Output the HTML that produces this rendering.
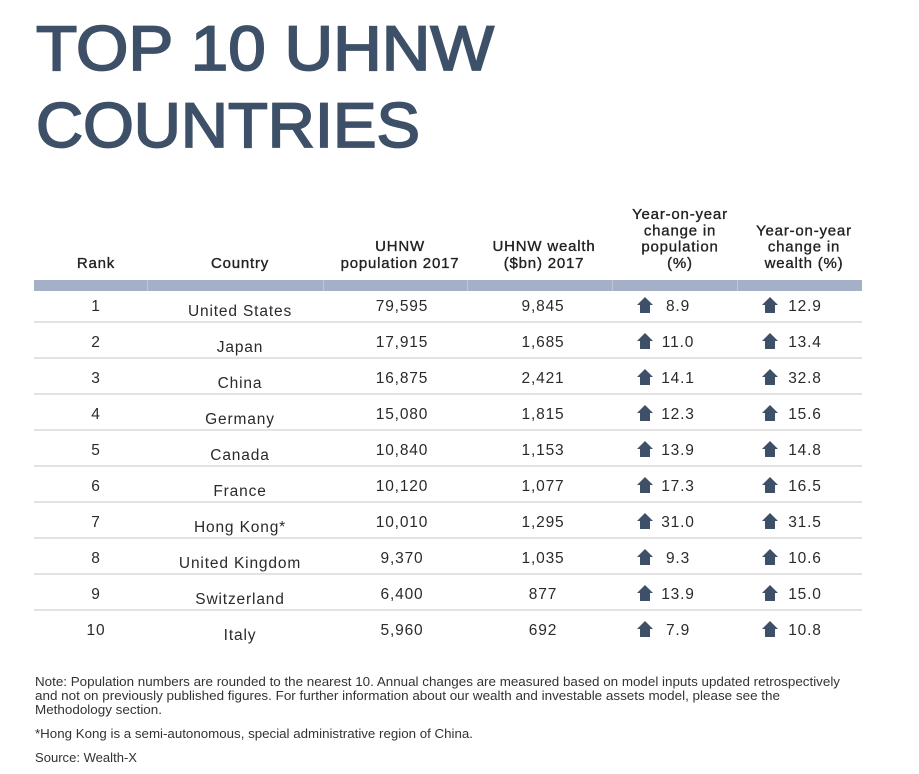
<!DOCTYPE html>
<html>
<head>
<meta charset="utf-8">
<style>
  html, body { margin:0; padding:0; background:#ffffff; }
  body { width:919px; height:774px; overflow:hidden; }
  svg { display:block; }
  .t { font-family:"Liberation Sans", sans-serif; }
  .title { font-weight:normal; font-size:63px; fill:#3d5068; stroke:#3d5068; stroke-width:1.8px; }
  .hd { font-weight:normal; font-size:15px; fill:#222; stroke:#222; stroke-width:0.35px; letter-spacing:0.8px; text-anchor:middle; }
  .bd { font-size:15.5px; fill:#2a2a2a; letter-spacing:0.85px; text-anchor:middle; }
  .ft { font-size:12.5px; fill:#333; }
</style>
</head>
<body>
<svg width="919" height="774" viewBox="0 0 919 774" xmlns="http://www.w3.org/2000/svg">
  <rect width="919" height="774" fill="#fff"/>
  <!-- Title -->
  <text class="t title" x="36" y="70" textLength="458" lengthAdjust="spacingAndGlyphs">TOP 10 UHNW</text>
  <text class="t title" x="36" y="147" textLength="384" lengthAdjust="spacingAndGlyphs">COUNTRIES</text>

  <!-- Headers -->
  <text class="t hd" x="96" y="268">Rank</text>
  <text class="t hd" x="240" y="268">Country</text>
  <text class="t hd" x="400" y="251">UHNW</text>
  <text class="t hd" x="400" y="268">population 2017</text>
  <text class="t hd" x="544" y="251">UHNW wealth</text>
  <text class="t hd" x="544" y="268">($bn) 2017</text>
  <text class="t hd" x="680" y="219">Year-on-year</text>
  <text class="t hd" x="680" y="235.5">change in</text>
  <text class="t hd" x="680" y="251.5">population</text>
  <text class="t hd" x="680" y="268">(%)</text>
  <text class="t hd" x="804" y="235.5">Year-on-year</text>
  <text class="t hd" x="804" y="251.5">change in</text>
  <text class="t hd" x="804" y="268">wealth (%)</text>

  <!-- Header bar -->
  <rect x="34" y="280" width="828" height="11" fill="#a3b0c7"/>
  <g fill="#bcc6d7">
    <rect x="147" y="280" width="1" height="11"/>
    <rect x="323" y="280" width="1" height="11"/>
    <rect x="467" y="280" width="1" height="11"/>
    <rect x="612" y="280" width="1" height="11"/>
    <rect x="737" y="280" width="1" height="11"/>
  </g>

  <!-- Row separators -->
  <g fill="#e3e3e3">
    <rect x="34" y="321" width="828" height="2"/>
    <rect x="34" y="357" width="828" height="2"/>
    <rect x="34" y="393" width="828" height="2"/>
    <rect x="34" y="429" width="828" height="2"/>
    <rect x="34" y="465" width="828" height="2"/>
    <rect x="34" y="501" width="828" height="2"/>
    <rect x="34" y="537" width="828" height="2"/>
    <rect x="34" y="573" width="828" height="2"/>
    <rect x="34" y="609" width="828" height="2"/>
  </g>

  <defs>
    <path id="arr" d="M8 0 L16 8 L13 8 L13 16 L3 16 L3 8 L0 8 Z" fill="#3d5068"/>
  </defs>

  <!-- Rows -->
  <g class="t">
    <text class="bd" x="96" y="311">1</text>
    <text class="bd" x="240" y="316">United States</text>
    <text class="bd" x="402" y="311">79,595</text>
    <text class="bd" x="543" y="311">9,845</text>
    <use href="#arr" x="637" y="297"/>
    <text class="bd" x="678" y="311">8.9</text>
    <use href="#arr" x="762" y="297"/>
    <text class="bd" x="805" y="311">12.9</text>

    <text class="bd" x="96" y="347">2</text>
    <text class="bd" x="240" y="352">Japan</text>
    <text class="bd" x="402" y="347">17,915</text>
    <text class="bd" x="543" y="347">1,685</text>
    <use href="#arr" x="637" y="333"/>
    <text class="bd" x="678" y="347">11.0</text>
    <use href="#arr" x="762" y="333"/>
    <text class="bd" x="805" y="347">13.4</text>

    <text class="bd" x="96" y="383">3</text>
    <text class="bd" x="240" y="388">China</text>
    <text class="bd" x="402" y="383">16,875</text>
    <text class="bd" x="543" y="383">2,421</text>
    <use href="#arr" x="637" y="369"/>
    <text class="bd" x="678" y="383">14.1</text>
    <use href="#arr" x="762" y="369"/>
    <text class="bd" x="805" y="383">32.8</text>

    <text class="bd" x="96" y="419">4</text>
    <text class="bd" x="240" y="424">Germany</text>
    <text class="bd" x="402" y="419">15,080</text>
    <text class="bd" x="543" y="419">1,815</text>
    <use href="#arr" x="637" y="405"/>
    <text class="bd" x="678" y="419">12.3</text>
    <use href="#arr" x="762" y="405"/>
    <text class="bd" x="805" y="419">15.6</text>

    <text class="bd" x="96" y="455">5</text>
    <text class="bd" x="240" y="460">Canada</text>
    <text class="bd" x="402" y="455">10,840</text>
    <text class="bd" x="543" y="455">1,153</text>
    <use href="#arr" x="637" y="441"/>
    <text class="bd" x="678" y="455">13.9</text>
    <use href="#arr" x="762" y="441"/>
    <text class="bd" x="805" y="455">14.8</text>

    <text class="bd" x="96" y="491">6</text>
    <text class="bd" x="240" y="496">France</text>
    <text class="bd" x="402" y="491">10,120</text>
    <text class="bd" x="543" y="491">1,077</text>
    <use href="#arr" x="637" y="477"/>
    <text class="bd" x="678" y="491">17.3</text>
    <use href="#arr" x="762" y="477"/>
    <text class="bd" x="805" y="491">16.5</text>

    <text class="bd" x="96" y="527">7</text>
    <text class="bd" x="240" y="532">Hong Kong*</text>
    <text class="bd" x="402" y="527">10,010</text>
    <text class="bd" x="543" y="527">1,295</text>
    <use href="#arr" x="637" y="513"/>
    <text class="bd" x="678" y="527">31.0</text>
    <use href="#arr" x="762" y="513"/>
    <text class="bd" x="805" y="527">31.5</text>

    <text class="bd" x="96" y="563">8</text>
    <text class="bd" x="240" y="568">United Kingdom</text>
    <text class="bd" x="402" y="563">9,370</text>
    <text class="bd" x="543" y="563">1,035</text>
    <use href="#arr" x="637" y="549"/>
    <text class="bd" x="678" y="563">9.3</text>
    <use href="#arr" x="762" y="549"/>
    <text class="bd" x="805" y="563">10.6</text>

    <text class="bd" x="96" y="599">9</text>
    <text class="bd" x="240" y="604">Switzerland</text>
    <text class="bd" x="402" y="599">6,400</text>
    <text class="bd" x="543" y="599">877</text>
    <use href="#arr" x="637" y="585"/>
    <text class="bd" x="678" y="599">13.9</text>
    <use href="#arr" x="762" y="585"/>
    <text class="bd" x="805" y="599">15.0</text>

    <text class="bd" x="96" y="635">10</text>
    <text class="bd" x="240" y="640">Italy</text>
    <text class="bd" x="402" y="635">5,960</text>
    <text class="bd" x="543" y="635">692</text>
    <use href="#arr" x="637" y="621"/>
    <text class="bd" x="678" y="635">7.9</text>
    <use href="#arr" x="762" y="621"/>
    <text class="bd" x="805" y="635">10.8</text>
  </g>

  <!-- Footnotes -->
  <text class="t ft" x="35" y="686" textLength="805" lengthAdjust="spacingAndGlyphs">Note: Population numbers are rounded to the nearest 10. Annual changes are measured based on model inputs updated retrospectively</text>
  <text class="t ft" x="35" y="700" textLength="745" lengthAdjust="spacingAndGlyphs">and not on previously published figures. For further information about our wealth and investable assets model, please see the</text>
  <text class="t ft" x="35" y="714" textLength="127" lengthAdjust="spacingAndGlyphs">Methodology section.</text>
  <text class="t ft" x="35" y="738" textLength="438" lengthAdjust="spacingAndGlyphs">*Hong Kong is a semi-autonomous, special administrative region of China.</text>
  <text class="t ft" x="35" y="762" textLength="102" lengthAdjust="spacingAndGlyphs">Source: Wealth-X</text>
</svg>
</body>
</html>
